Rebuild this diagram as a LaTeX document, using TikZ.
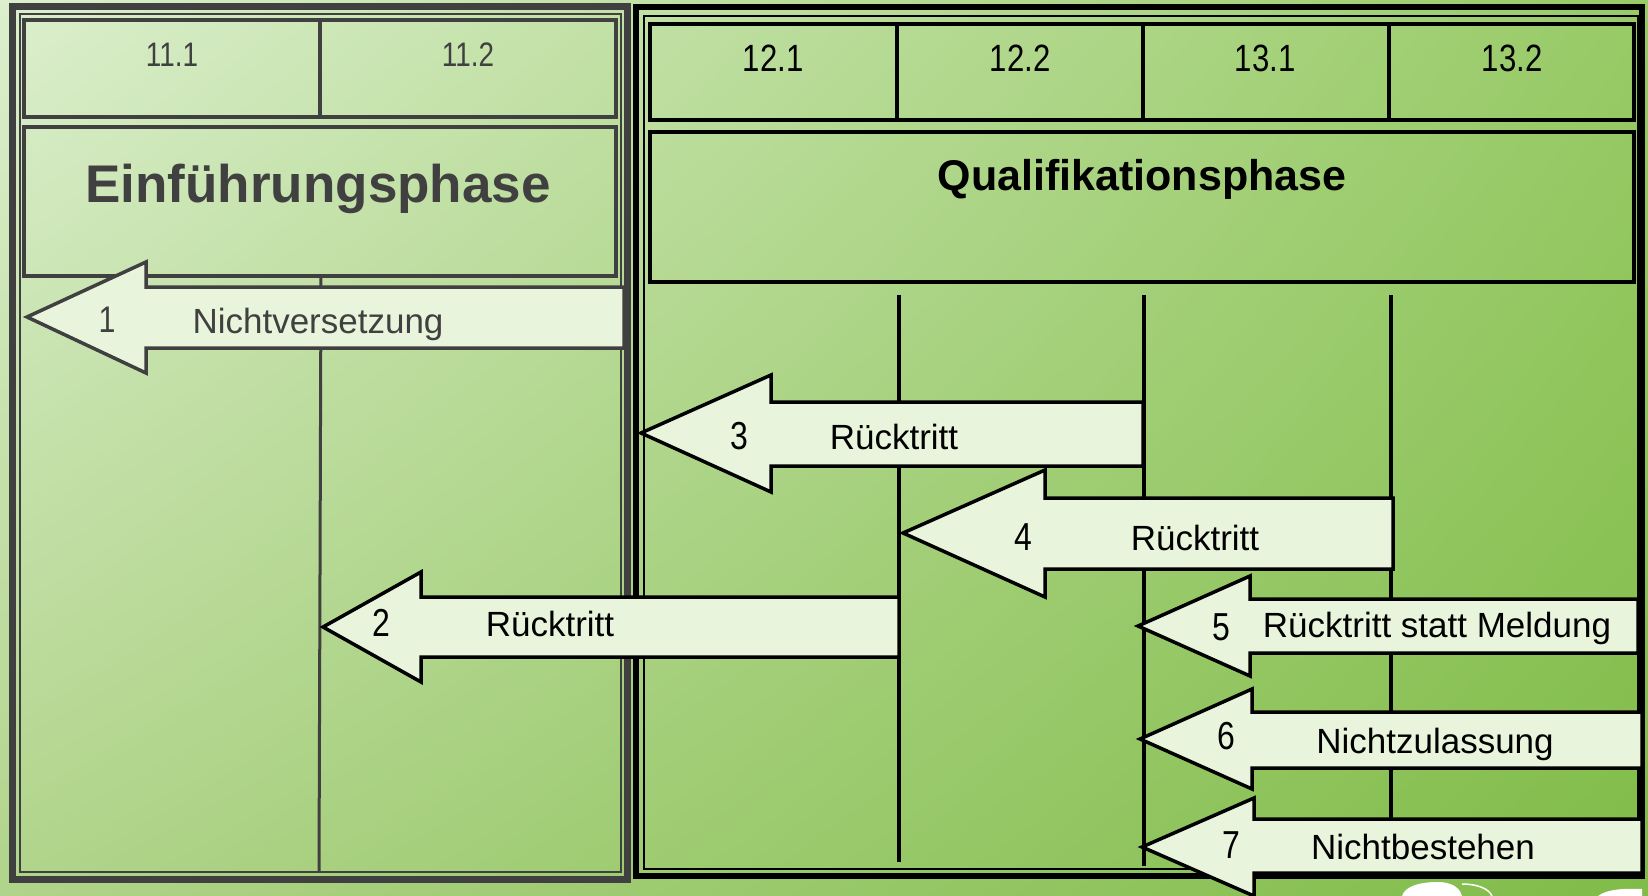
\documentclass[tikz,border=0pt]{standalone}
\usepackage{fontspec}
\setmainfont{Liberation Sans}
\newfontfamily\narrowfont[FakeStretch=0.82]{Liberation Sans}
\usetikzlibrary{shadings}
\definecolor{bgTL}{HTML}{DCEFCE}
\definecolor{bgTR}{HTML}{98CA66}
\definecolor{bgBL}{HTML}{B0D48A}
\definecolor{bgBR}{HTML}{80BC48}
\definecolor{afill}{HTML}{E8F5DC}
\definecolor{lgray}{HTML}{404040}
\begin{document}
\begin{tikzpicture}[x=1pt,y=-1pt,
  gbox/.style={draw=lgray, line width=3.5pt},
  bbox/.style={draw=black, line width=4pt},
  garrow/.style={draw=lgray, fill=afill, line width=3.5pt, line join=miter},
  barrow/.style={draw=black, fill=afill, line width=3.5pt, line join=miter},
  lbl/.style={inner sep=0pt, anchor=base, font=\fontsize{35}{40}\selectfont},
  num/.style={inner sep=0pt, anchor=base, font=\narrowfont\fontsize{39}{44}\selectfont},
  hdrL/.style={inner sep=0pt, anchor=base, text=lgray, font=\narrowfont\fontsize{34}{40}\selectfont},
  hdrR/.style={inner sep=0pt, anchor=base, font=\narrowfont\fontsize{38}{44}\selectfont},
]
\useasboundingbox (0,0) rectangle (1648,896);
\shade[upper left=bgTL, upper right=bgTR, lower left=bgBL, lower right=bgBR] (0,0) rectangle (1648,896);

% ---------- left panel ----------
\draw[lgray, line width=7pt] (12,7) rectangle (627,879);
\draw[lgray, line width=2pt] (19.5,14) rectangle (620.5,872);
\draw[gbox] (24,20) rectangle (616,117);
\draw[gbox] (320,20) -- (320,117);
\draw[gbox] (24,127) rectangle (616,276);
\draw[lgray, line width=3pt] (321,276) -- (319,871);
\node[hdrL] (h111) at (172,67) {11.1};
\node[hdrL] (h112) at (468,67) {11.2};
\node[inner sep=0pt, anchor=base, text=lgray, font=\bfseries\fontsize{53}{60}\selectfont] (einf) at (318,202) {Einführungsphase};

% ---------- right panel ----------
\draw[black, line width=6pt] (636,7) rectangle (1642,876);
\draw[black, line width=2pt] (643.5,16) rectangle (1638,869);
\draw[bbox] (650,24) rectangle (1634,120);
\draw[bbox] (897,24) -- (897,120);
\draw[bbox] (1143,24) -- (1143,120);
\draw[bbox] (1389,24) -- (1389,120);
\draw[bbox] (650,132) rectangle (1634,282);
\node[hdrR] (h121) at (773,72) {12.1};
\node[hdrR] (h122) at (1020,72) {12.2};
\node[hdrR] (h131) at (1265,72) {13.1};
\node[hdrR] (h132) at (1512,72) {13.2};
\node[inner sep=0pt, anchor=base, font=\bfseries\fontsize{43}{50}\selectfont] (qual) at (1142,191) {Qualifikationsphase};
\draw[bbox] (899,295) -- (899,862);
\draw[bbox] (1144,295) -- (1144,866);
\draw[bbox] (1391,295) -- (1391,820);

% ---------- arrows ----------
% 1
\draw[garrow] (624,287) -- (146,287) -- (146,262) -- (27,317) -- (146,373) -- (146,348) -- (624,348) -- cycle;
\node[num, text=lgray, font=\narrowfont\fontsize{37}{42}\selectfont] (n1) at (107,332) {1};
\node[lbl, text=lgray] (t1) at (318,333) {Nichtversetzung};
% 2
\draw[barrow] (899,597) -- (421,597) -- (421,572) -- (323,627) -- (421,682) -- (421,657) -- (899,657) -- cycle;
\node[num] (n2) at (381,636) {2};
\node[lbl] (t2) at (550,636) {Rücktritt};
% 3
\draw[barrow] (1143,402) -- (771,402) -- (771,375) -- (641,433) -- (771,492) -- (771,466) -- (1143,466) -- cycle;
\node[num] (n3) at (739,449) {3};
\node[lbl] (t3) at (894,449) {Rücktritt};
% 4
\draw[barrow] (1393,498) -- (1045,498) -- (1045,470) -- (903,533) -- (1045,597) -- (1045,569) -- (1393,569) -- cycle;
\node[num] (n4) at (1023,550) {4};
\node[lbl] (t4) at (1195,550) {Rücktritt};
% 5
\draw[barrow] (1638,599) -- (1250,599) -- (1250,576) -- (1138,626) -- (1250,676) -- (1250,653) -- (1638,653) -- cycle;
\node[num] (n5) at (1221,640) {5};
\node[lbl] (t5) at (1437,637) {Rücktritt statt Meldung};
% 6
\draw[barrow] (1642,712) -- (1252,712) -- (1252,689) -- (1140,739) -- (1252,789) -- (1252,768) -- (1642,768) -- cycle;
\node[num] (n6) at (1226,749) {6};
\node[lbl] (t6) at (1435,753) {Nichtzulassung};
% 7
\draw[barrow] (1642,819) -- (1254,819) -- (1254,798) -- (1142,847) -- (1254,896) -- (1254,873) -- (1642,873) -- cycle;
\node[num] (n7) at (1231,858) {7};
\node[lbl] (t7) at (1423,859) {Nichtbestehen};

% ---------- white fragments at bottom right ----------
\fill[white] (1402,896) .. controls (1405,886) and (1420,882) .. (1438,882) .. controls (1452,882) and (1460,888) .. (1462,896) -- cycle;
\draw[white, line width=1.5pt] (1462,884) .. controls (1478,884) and (1489,889) .. (1492,896);
\fill[white] (1598,896) .. controls (1606,890) and (1620,888) .. (1642,889) -- (1642,896) -- cycle;
\end{tikzpicture}
\end{document}
